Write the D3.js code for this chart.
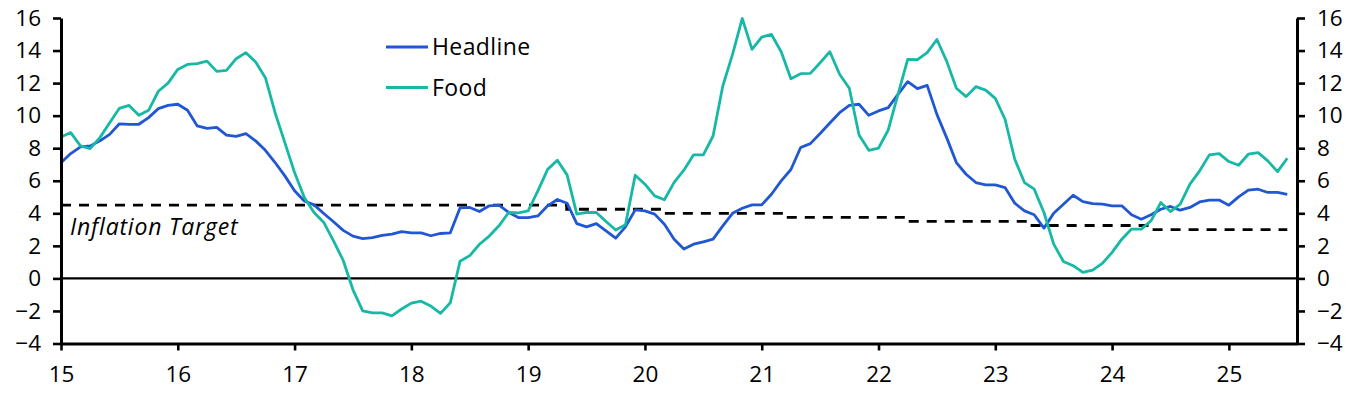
<!DOCTYPE html>
<html>
<head>
<meta charset="utf-8">
<script src="https://cdn.jsdelivr.net/npm/d3@7"></script>
<style>
  body { margin: 0; background: #fff; }
  svg text { font-family: "Open Sans", sans-serif; fill: #000; }
</style>
</head>
<body>
<div id="chart"></div>
<script>
// Monthly data, Jan 2015 to Jul 2025 (% y/y)
const startYear = 15;

const headline = [
  7.1, 7.67, 8.08, 8.14, 8.45, 8.85, 9.5, 9.47, 9.47, 9.88, 10.43, 10.63,
  10.7, 10.33, 9.37, 9.22, 9.28, 8.8, 8.73, 8.9, 8.45, 7.87, 7.12, 6.3,
  5.38, 4.76, 4.52, 3.99, 3.48, 2.95, 2.6, 2.45, 2.5, 2.65, 2.72, 2.88,
  2.8, 2.8, 2.62, 2.76, 2.8, 4.33, 4.36, 4.11, 4.46, 4.5, 4.05, 3.74,
  3.74, 3.84, 4.46, 4.85, 4.62, 3.37, 3.17, 3.37, 2.92, 2.47, 3.17, 4.21,
  4.15, 3.95, 3.33, 2.41, 1.8, 2.1, 2.25, 2.41, 3.23, 4.0, 4.31, 4.52,
  4.52, 5.17, 5.99, 6.69, 8.04, 8.28, 8.9, 9.55, 10.18, 10.63, 10.7, 10.02,
  10.29, 10.49, 11.31, 12.09, 11.66, 11.86, 10.08, 8.65, 7.12, 6.4, 5.89, 5.75,
  5.75, 5.58, 4.62, 4.15, 3.91, 3.09, 4.0, 4.56, 5.11, 4.72, 4.6, 4.56,
  4.46, 4.46, 3.91, 3.64, 3.91, 4.25, 4.42, 4.19, 4.36, 4.7, 4.81, 4.81,
  4.5, 5.01, 5.42, 5.48, 5.28, 5.28, 5.17
];

const food = [
  8.69, 8.96, 8.14, 7.98, 8.65, 9.57, 10.45, 10.63, 10.02, 10.33, 11.5, 12.0,
  12.84, 13.15, 13.2, 13.35, 12.72, 12.78, 13.5, 13.87, 13.3, 12.33, 10.18, 8.34,
  6.5, 4.97, 4.05, 3.44, 2.31, 1.1, -0.7, -2.0, -2.12, -2.12, -2.3, -1.88,
  -1.52, -1.4, -1.7, -2.15, -1.5, 1.05, 1.4, 2.1, 2.6, 3.23, 4.05, 4.03,
  4.15, 5.38, 6.7, 7.26, 6.36, 3.95, 4.05, 4.05, 3.5, 2.97, 3.29, 6.34,
  5.79, 5.07, 4.83, 5.9, 6.65, 7.59, 7.59, 8.75, 11.82, 13.76, 15.97, 14.07,
  14.83, 14.99, 13.93, 12.27, 12.58, 12.6, 13.25, 13.93, 12.54, 11.68, 8.81, 7.87,
  8.0, 9.12, 11.31, 13.46, 13.44, 13.87, 14.68, 13.35, 11.68, 11.17, 11.78, 11.57,
  11.06, 9.78, 7.32, 5.89, 5.48, 4.05, 2.11, 1.04, 0.78, 0.37, 0.51, 0.92,
  1.6, 2.41, 3.03, 3.03, 3.54, 4.66, 4.11, 4.56, 5.79, 6.61, 7.59, 7.67,
  7.18, 6.95, 7.63, 7.73, 7.22, 6.56, 7.38
];

// Inflation target: start of each period and its level
const targetStart = [15, 19.33, 20.17, 21.2, 22.25, 23.29, 24.3];
const targetLevel = [4.5, 4.25, 4.0, 3.75, 3.5, 3.25, 3.0];
const targetEnd = 25.5;

const xTicks = [15, 16, 17, 18, 19, 20, 21, 22, 23, 24, 25];
const yTicks = [-4, -2, 0, 2, 4, 6, 8, 10, 12, 14, 16];

const series = [
  { name: "Headline", values: headline, color: "#2157d3" },
  { name: "Food", values: food, color: "#17b8a5" }
];

const width = 1364;
const height = 394;

const svg = d3.select("#chart")
    .append("svg")
    .attr("width", width)
    .attr("height", height);

const x = d3.scaleLinear()
    .domain([startYear, startYear + headline.length / 12])
    .range([61, 1297]);

const y = d3.scaleLinear()
    .domain([-4, 16])
    .range([343.5, 18]);

// zero line
svg.append("line")
    .attr("x1", x.range()[0]).attr("x2", x.range()[1])
    .attr("y1", y(0)).attr("y2", y(0))
    .attr("stroke", "#000")
    .attr("stroke-width", 2.4);

// inflation target (dashed step line)
const targetPts = targetStart.map((s, i) => [s, targetLevel[i]]);
targetPts.push([targetEnd, targetLevel[targetLevel.length - 1]]);

svg.append("path")
    .datum(targetPts)
    .attr("fill", "none")
    .attr("stroke", "#000")
    .attr("stroke-width", 2.8)
    .attr("stroke-dasharray", "10,8")
    .attr("d", d3.line()
        .x(d => x(d[0]))
        .y(d => y(d[1]))
        .curve(d3.curveStepAfter));

svg.append("text")
    .attr("x", 70)
    .attr("y", 235)
    .attr("font-size", 23)
    .attr("font-style", "italic")
    .attr("letter-spacing", 0.8)
    .text("Inflation Target");

// data lines
const line = d3.line()
    .x((d, i) => x(startYear + i / 12))
    .y(d => y(d));

svg.selectAll(".series")
    .data(series)
    .enter().append("path")
    .attr("class", "series")
    .attr("fill", "none")
    .attr("stroke", d => d.color)
    .attr("stroke-width", 2.8)
    .attr("stroke-linejoin", "round")
    .attr("d", d => line(d.values));

// axes
const axisLeft = d3.axisLeft(y).tickValues(yTicks).tickSize(8).tickPadding(12);
const axisRight = d3.axisRight(y).tickValues(yTicks).tickSize(8).tickPadding(12);
const axisBottom = d3.axisBottom(x).tickValues(xTicks).tickSize(7).tickPadding(16)
    .tickFormat(d3.format("d"));

function styleAxis(g) {
  g.select(".domain").attr("stroke", "#000").attr("stroke-width", 3);
  g.selectAll(".tick line").attr("stroke", "#000").attr("stroke-width", 2.6);
  g.selectAll(".tick text")
      .attr("font-size", 22.5)
      .attr("font-family", "'Open Sans', sans-serif")
      .attr("fill", "#000");
}

svg.append("g")
    .attr("transform", `translate(0,${y(-4)})`)
    .call(axisBottom.tickSizeOuter(0))
    .call(styleAxis);

svg.append("g")
    .attr("transform", `translate(${x.range()[0]},0)`)
    .call(axisLeft.tickSizeOuter(0))
    .call(styleAxis);

svg.append("g")
    .attr("transform", `translate(${x.range()[1]},0)`)
    .call(axisRight.tickSizeOuter(0))
    .call(styleAxis);

// legend
const legend = svg.append("g")
    .attr("transform", "translate(386,47)");

const item = legend.selectAll("g")
    .data(series)
    .enter().append("g")
    .attr("transform", (d, i) => `translate(0,${i * 40.5})`);

item.append("line")
    .attr("x1", 0).attr("x2", 42)
    .attr("stroke", d => d.color)
    .attr("stroke-width", 2.8);

item.append("text")
    .attr("x", 46)
    .attr("dy", "0.35em")
    .attr("font-size", 23)
    .attr("letter-spacing", 0.4)
    .text(d => d.name);
</script>
</body>
</html>
